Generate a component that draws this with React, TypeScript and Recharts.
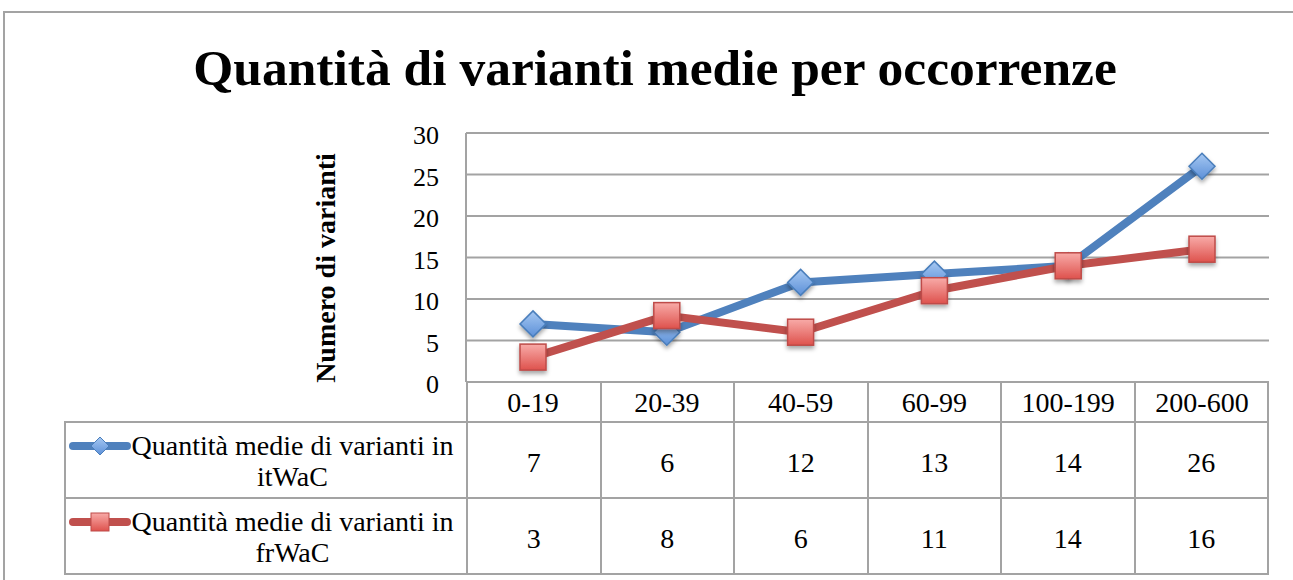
import { CartesianGrid, Line, LineChart, XAxis, YAxis } from 'recharts';

const categories = ['0-19', '20-39', '40-59', '60-99', '100-199', '200-600'];
const itWaC = [7, 6, 12, 13, 14, 26];
const frWaC = [3, 8, 6, 11, 14, 16];
const seriesNames = ['Quantità medie di varianti in itWaC', 'Quantità medie di varianti in frWaC'];
const yTicks = [0, 5, 10, 15, 20, 25, 30];

const chartTitle = 'Quantità di varianti medie per occorrenze';
const yTitle = 'Numero di varianti';

const data = categories.map((cat, i) => ({ cat, itWaC: itWaC[i], frWaC: frWaC[i] }));

const FONT = '"Liberation Serif", "Times New Roman", serif';
const GRID = '#A3A3A3';
const BLUE = '#4F81BD';
const RED = '#C0504D';
const MARK = 13;

function Diamond({ cx, cy }: any) {
  if (cx == null || cy == null) return null;
  const r = MARK;
  return (
    <polygon
      points={`${cx},${cy - r} ${cx + r},${cy} ${cx},${cy + r} ${cx - r},${cy}`}
      fill="url(#blueMarker)"
      stroke="#4A7EBB"
      strokeWidth={1.5}
      filter="url(#markerShadow)"
    />
  );
}

function Square({ cx, cy }: any) {
  if (cx == null || cy == null) return null;
  const r = MARK;
  return (
    <rect
      x={cx - r}
      y={cy - r}
      width={r * 2}
      height={r * 2}
      fill="url(#redMarker)"
      stroke="#BE4B48"
      strokeWidth={1.5}
      filter="url(#markerShadow)"
    />
  );
}

function Swatch({ kind }: { kind: 'blue' | 'red' }) {
  const color = kind === 'blue' ? BLUE : RED;
  return (
    <svg width={62} height={22} style={{ flexShrink: 0, marginTop: 5 }}>
      <line x1={4} y1={11} x2={58} y2={11} stroke={color} strokeWidth={8} strokeLinecap="round" />
      {kind === 'blue' ? (
        <polygon points="31,2 40,11 31,20 22,11" fill="url(#blueMarker)" stroke="#4A7EBB" strokeWidth={1} />
      ) : (
        <rect x={22} y={2} width={18} height={18} fill="url(#redMarker)" stroke="#BE4B48" strokeWidth={1} />
      )}
    </svg>
  );
}

const cellBorder = `2px solid ${GRID}`;

export default function App() {
  const rows = [
    { name: seriesNames[0], values: itWaC, kind: 'blue' as const },
    { name: seriesNames[1], values: frWaC, kind: 'red' as const },
  ];

  return (
    <div
      style={{
        position: 'absolute',
        left: 0,
        top: 0,
        width: 1293,
        height: 580,
        overflow: 'hidden',
        background: '#fff',
        fontFamily: FONT,
      }}
    >
      {/* outer frame */}
      <div
        style={{
          position: 'absolute',
          left: 3,
          top: 11,
          width: 1320,
          height: 620,
          border: `2px solid ${GRID}`,
        }}
      />

      <div
        style={{
          position: 'absolute',
          left: 0,
          top: 42,
          width: 1310,
          textAlign: 'center',
          fontSize: 51.5,
          lineHeight: '51px',
          fontWeight: 'bold',
          color: '#000',
          whiteSpace: 'nowrap',
        }}
      >
        {chartTitle}
      </div>

      <div style={{ position: 'absolute', left: 0, top: 0 }}>
        <LineChart
          width={1293}
          height={580}
          data={data}
          margin={{ top: 133, right: 24, bottom: 158, left: 410 }}
        >
          <defs>
            <linearGradient id="blueMarker" x1="0" y1="0" x2="0" y2="1">
              <stop offset="0%" stopColor="#A6C8F2" />
              <stop offset="100%" stopColor="#5C90D8" />
            </linearGradient>
            <linearGradient id="redMarker" x1="0" y1="0" x2="0" y2="1">
              <stop offset="0%" stopColor="#F8ABA8" />
              <stop offset="100%" stopColor="#DE524D" />
            </linearGradient>
            <filter id="markerShadow" x="-50%" y="-50%" width="200%" height="200%">
              <feDropShadow dx="0" dy="3" stdDeviation="2" floodColor="#000" floodOpacity="0.35" />
            </filter>
          </defs>
          <CartesianGrid vertical={false} stroke={GRID} strokeWidth={2} />
          <XAxis
            dataKey="cat"
            height={40}
            axisLine={false}
            tickLine={false}
            tickMargin={4}
            padding={{ left: 67, right: 67 }}
            tick={{ fontSize: 28, fill: '#000', fontFamily: FONT }}
            interval={0}
          />
          <YAxis
            width={56}
            domain={[0, 30]}
            ticks={yTicks}
            interval={0}
            tickLine={false}
            tickMargin={21}
            axisLine={{ stroke: GRID, strokeWidth: 2 }}
            tick={{ fontSize: 26, fill: '#000', fontFamily: FONT, dy: 2 }}
            label={{
              content: () => (
                <text
                  x={325}
                  y={268}
                  transform="rotate(-90 325 268)"
                  textAnchor="middle"
                  dominantBaseline="central"
                  fontSize={28}
                  fontWeight="bold"
                  fontFamily={FONT}
                  fill="#000"
                >
                  {yTitle}
                </text>
              ),
            }}
          />
          <Line
            dataKey="itWaC"
            name={seriesNames[0]}
            stroke={BLUE}
            strokeWidth={8}
            strokeLinejoin="round"
            dot={<Diamond />}
            activeDot={false}
            isAnimationActive={false}
          />
          <Line
            dataKey="frWaC"
            name={seriesNames[1]}
            stroke={RED}
            strokeWidth={8}
            strokeLinejoin="round"
            dot={<Square />}
            activeDot={false}
            isAnimationActive={false}
          />
        </LineChart>
      </div>

      {/* data table */}
      <table
        style={{
          position: 'absolute',
          left: 64,
          top: 382,
          width: 1205,
          borderCollapse: 'collapse',
          tableLayout: 'fixed',
          fontSize: 28,
          fontFamily: FONT,
          color: '#000',
        }}
      >
        <colgroup>
          <col style={{ width: 402 }} />
          {categories.map((c) => (
            <col key={c} />
          ))}
        </colgroup>
        <tbody>
          <tr style={{ height: 40 }}>
            <td style={{ border: 'none', padding: 0 }} />
            {categories.map((c) => (
              <td key={c} style={{ border: cellBorder, borderTop: 'none', padding: 0 }} />
            ))}
          </tr>
          {rows.map((row) => (
            <tr key={row.name} style={{ height: 76 }}>
              <td style={{ border: cellBorder, padding: '2px 0 0 3px' }}>
                <div style={{ display: 'flex', alignItems: 'flex-start' }}>
                  <Swatch kind={row.kind} />
                  <div style={{ flex: 1, textAlign: 'center', lineHeight: '31px', marginRight: 12 }}>
                    {row.name}
                  </div>
                </div>
              </td>
              {row.values.map((v, i) => (
                <td key={i} style={{ border: cellBorder, textAlign: 'center', padding: '5px 0 0 0' }}>
                  {v}
                </td>
              ))}
            </tr>
          ))}
        </tbody>
      </table>
    </div>
  );
}
